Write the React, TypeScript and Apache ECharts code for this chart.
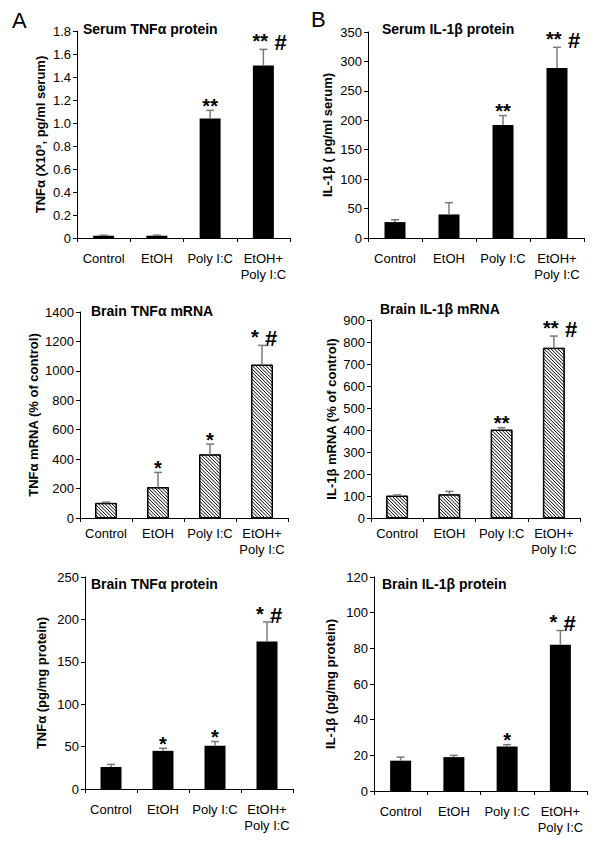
import React, { useEffect, useRef } from "react";
import * as echarts from "echarts";

const categories = ["Control", "EtOH", "Poly I:C", "EtOH+\nPoly I:C"];

// Serum TNFα protein (X10^3 pg/ml serum)
const serumTnfMean = [0.02, 0.02, 1.04, 1.5];
const serumTnfSem = [0.005, 0.005, 0.07, 0.14];
const serumTnfStars = ["", "", "**", "**"];

// Serum IL-1β protein (pg/ml serum)
const serumIl1Mean = [27, 40, 192, 289];
const serumIl1Sem = [4, 20, 16, 35];
const serumIl1Stars = ["", "", "**", "**"];

// Brain TNFα mRNA (% of control)
const brainTnfMrnaMean = [100, 207, 430, 1040];
const brainTnfMrnaSem = [8, 103, 72, 133];
const brainTnfMrnaStars = ["", "*", "*", "*"];

// Brain IL-1β mRNA (% of control)
const brainIl1MrnaMean = [100, 106, 400, 772];
const brainIl1MrnaSem = [5, 15, 10, 55];
const brainIl1MrnaStars = ["", "", "**", "**"];

// Brain TNFα protein (pg/mg protein)
const brainTnfProtMean = [26, 45, 51, 174];
const brainTnfProtSem = [3, 3, 5, 23];
const brainTnfProtStars = ["", "*", "*", "*"];

// Brain IL-1β protein (pg/mg protein)
const brainIl1ProtMean = [17, 19, 25, 82];
const brainIl1ProtSem = [2, 1, 1, 8];
const brainIl1ProtStars = ["", "", "*", "*"];

const hashMarks = ["", "", "", "#"];

const FONT = "'Liberation Sans', Arial, Helvetica, sans-serif";

const panels = [
  { title: "Serum TNFα protein", yName: "TNFα (X10³, pg/ml serum)", max: 1.8, interval: 0.2, dec: 1,
    mean: serumTnfMean, sem: serumTnfSem, stars: serumTnfStars, hatched: false,
    grid: { left: 77, top: 31, width: 213, height: 207 }, nameGap: 30, labelMargin: 12, titleX: 83, titleY: 22 },
  { title: "Serum IL-1β protein", yName: "IL-1β ( pg/ml serum)", max: 350, interval: 50, dec: 0,
    mean: serumIl1Mean, sem: serumIl1Sem, stars: serumIl1Stars, hatched: false,
    grid: { left: 368, top: 32, width: 216, height: 206 }, nameGap: 34, labelMargin: 12, titleX: 382, titleY: 22 },
  { title: "Brain TNFα mRNA", yName: "TNFα mRNA (% of control)", max: 1400, interval: 200, dec: 0,
    mean: brainTnfMrnaMean, sem: brainTnfMrnaSem, stars: brainTnfMrnaStars, hatched: true,
    grid: { left: 80, top: 312, width: 208, height: 206 }, nameGap: 40, labelMargin: 7, titleX: 91, titleY: 304 },
  { title: "Brain IL-1β mRNA", yName: "IL-1β mRNA (% of control)", max: 900, interval: 100, dec: 0,
    mean: brainIl1MrnaMean, sem: brainIl1MrnaSem, stars: brainIl1MrnaStars, hatched: true,
    grid: { left: 371, top: 320, width: 209, height: 198 }, nameGap: 33, labelMargin: 7, titleX: 380, titleY: 302 },
  { title: "Brain TNFα protein", yName: "TNFα (pg/mg protein)", max: 250, interval: 50, dec: 0,
    mean: brainTnfProtMean, sem: brainTnfProtSem, stars: brainTnfProtStars, hatched: false,
    grid: { left: 85, top: 577, width: 208, height: 212 }, nameGap: 37, labelMargin: 12, titleX: 91, titleY: 577 },
  { title: "Brain IL-1β protein", yName: "IL-1β (pg/mg protein)", max: 120, interval: 20, dec: 0,
    mean: brainIl1ProtMean, sem: brainIl1ProtSem, stars: brainIl1ProtStars, hatched: false,
    grid: { left: 374, top: 577, width: 213, height: 214 }, nameGap: 37, labelMargin: 12, titleX: 382, titleY: 577 },
];

const BAR_W = 21;

function buildOption() {
  const grid: any[] = [];
  const xAxis: any[] = [];
  const yAxis: any[] = [];
  const series: any[] = [];
  const title: any[] = [
    { text: "A", left: 12, top: 9, padding: 0, textStyle: { fontFamily: FONT, fontSize: 22, fontWeight: "normal", color: "#000" } },
    { text: "B", left: 311, top: 8, padding: 0, textStyle: { fontFamily: FONT, fontSize: 22, fontWeight: "normal", color: "#000" } },
  ];

  panels.forEach((p, i) => {
    grid.push({ ...p.grid, containLabel: false });
    title.push({
      text: p.title, left: p.titleX, top: p.titleY, padding: 0,
      textStyle: { fontFamily: FONT, fontSize: 14, fontWeight: "bold", color: "#000" },
    });
    xAxis.push({
      type: "category", gridIndex: i, data: categories,
      axisLine: { show: true, lineStyle: { color: "#000", width: 1 } },
      axisTick: { show: true, length: 4, lineStyle: { color: "#000" } },
      axisLabel: { interval: 0, color: "#000", fontFamily: FONT, fontSize: 13, lineHeight: 16, margin: p.labelMargin },
      splitLine: { show: false },
    });
    yAxis.push({
      type: "value", gridIndex: i, min: 0, max: p.max, interval: p.interval,
      axisLine: { show: true, lineStyle: { color: "#000", width: 1 } },
      axisTick: { show: true, length: 4, lineStyle: { color: "#000" } },
      axisLabel: {
        color: "#000", fontFamily: FONT, fontSize: 13, margin: 6,
        formatter: (v: number) => (v === 0 ? "0" : v.toFixed(p.dec)),
      },
      splitLine: { show: false },
      name: p.yName, nameLocation: "middle", nameGap: p.nameGap,
      nameTextStyle: { color: "#000", fontFamily: FONT, fontSize: 13, fontWeight: "bold" },
    });

    series.push({
      type: "bar", xAxisIndex: i, yAxisIndex: i, data: p.mean, barWidth: BAR_W,
      itemStyle: { color: p.hatched ? "#fff" : "#000", borderColor: "#000", borderWidth: p.hatched ? 1 : 0 },
      z: 2,
    });

    if (p.hatched) {
      series.push({
        type: "custom", xAxisIndex: i, yAxisIndex: i, z: 3,
        data: p.mean.map((v, j) => [j, v]),
        encode: { x: 0, y: 1 },
        renderItem: (params: any, api: any) => {
          const j = api.value(0);
          const v = api.value(1);
          const base = api.coord([j, 0]);
          const top = api.coord([j, v]);
          const x0 = base[0] - BAR_W / 2;
          const y0 = top[1];
          const w = BAR_W;
          const h = base[1] - top[1];
          const period = 3.4;
          const children: any[] = [];
          for (let c = -h; c < w; c += period) {
            const t0 = Math.max(0, -c);
            const t1 = Math.min(h, w - c);
            if (t1 <= t0) continue;
            children.push({
              type: "line",
              shape: { x1: x0 + t0 + c, y1: y0 + t0, x2: x0 + t1 + c, y2: y0 + t1 },
              style: { stroke: "#000", lineWidth: 1 },
            });
          }
          children.push({
            type: "rect", shape: { x: x0, y: y0, width: w, height: h },
            style: { fill: "none", stroke: "#000", lineWidth: 1 },
          });
          return { type: "group", children };
        },
      });
    }

    // error bars
    series.push({
      type: "custom", xAxisIndex: i, yAxisIndex: i, z: 4,
      data: p.mean.map((v, j) => [j, v, v + p.sem[j]]),
      encode: { x: 0, y: [1, 2] },
      renderItem: (params: any, api: any) => {
        const j = api.value(0);
        const lo = api.coord([j, api.value(1)]);
        const hi = api.coord([j, api.value(2)]);
        return {
          type: "group",
          children: [
            { type: "line", shape: { x1: lo[0], y1: lo[1], x2: hi[0], y2: hi[1] }, style: { stroke: "#7a7a7a", lineWidth: 1.5 } },
            { type: "line", shape: { x1: hi[0] - 4, y1: hi[1], x2: hi[0] + 4, y2: hi[1] }, style: { stroke: "#7a7a7a", lineWidth: 1.5 } },
          ],
        };
      },
    });

    // significance annotations
    series.push({
      type: "custom", xAxisIndex: i, yAxisIndex: i, z: 5,
      data: p.mean.map((v, j) => [j, v + p.sem[j]]),
      encode: { x: 0, y: 1 },
      renderItem: (params: any, api: any) => {
        const j = api.value(0);
        const s = p.stars[j];
        const hash = hashMarks[j];
        if (!s) return { type: "group", children: [] };
        const pt = api.coord([j, api.value(1)]);
        const children: any[] = [];
        if (!hash) {
          const yMid = pt[1] - 6 + 1.6;
          children.push({
            type: "text", x: pt[0], y: yMid,
            style: { text: s, textAlign: "center", textVerticalAlign: "middle", fill: "#000", font: `bold 20px ${FONT}` },
          });
        } else {
          const yMid = pt[1] - 10 + 1.6;
          const left = pt[0] - 11;
          children.push({
            type: "text", x: left, y: yMid,
            style: { text: s, textAlign: "left", textVerticalAlign: "middle", fill: "#000", font: `bold 20px ${FONT}` },
          });
          children.push({
            type: "text", x: left + 8 * s.length + 6, y: yMid + 1.5,
            style: { text: hash, textAlign: "left", textVerticalAlign: "middle", fill: "#000", font: `bold 22px ${FONT}` },
          });
        }
        return { type: "group", children };
      },
    });
  });

  return {
    animation: false,
    backgroundColor: "#fff",
    textStyle: { fontFamily: FONT },
    title, grid, xAxis, yAxis, series,
  };
}

export default function App() {
  const ref = useRef<HTMLDivElement>(null);
  useEffect(() => {
    if (!ref.current) return;
    const chart = echarts.init(ref.current, null, { renderer: "svg" });
    chart.setOption(buildOption() as any);
    return () => chart.dispose();
  }, []);
  return (
    <div
      ref={ref}
      style={{ position: "fixed", left: 0, top: 0, width: 600, height: 844, background: "#fff" }}
    />
  );
}
